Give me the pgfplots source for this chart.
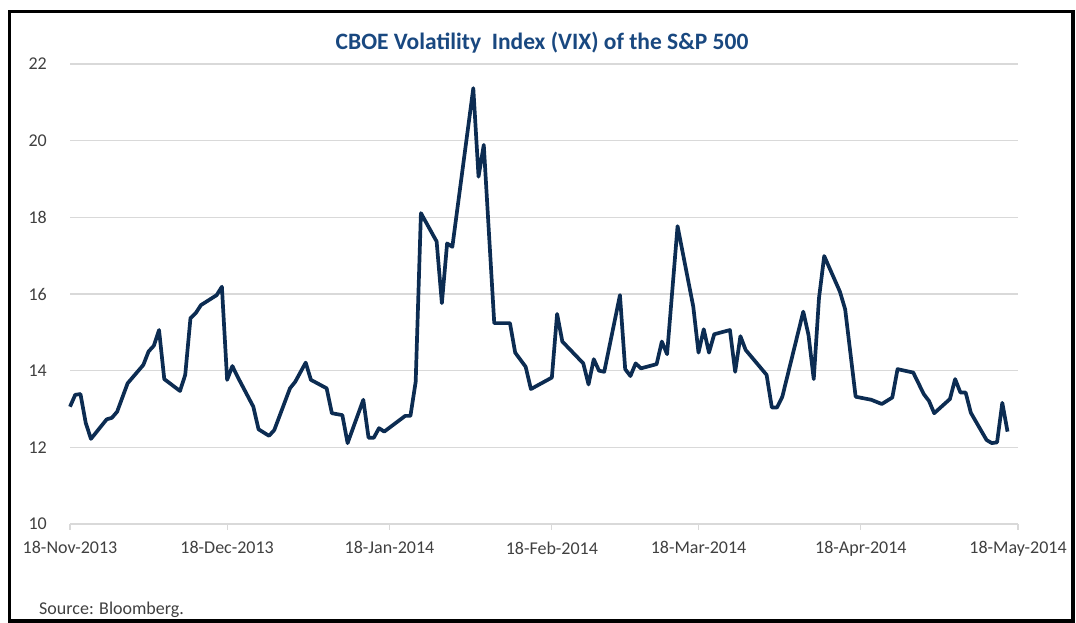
\documentclass[border=0pt]{standalone}
\usepackage{pgfplots}
\pgfplotsset{compat=1.18}
\usepackage{fontspec}
\setmainfont{Carlito}
\definecolor{linecol}{RGB}{12,44,82}
\definecolor{titlecol}{RGB}{25,72,128}
\definecolor{gridgray}{RGB}{217,217,217}
\definecolor{labgray}{RGB}{64,64,64}
\begin{document}
\begin{tikzpicture}[x=1pt,y=1pt]
\useasboundingbox (0,0) rectangle (1076,623);
\draw[line width=3.5pt] (9.5,2) rectangle (1073,611.5);
\node[anchor=base, text=titlecol, font=\fontsize{23.5}{27}\selectfont\bfseries] at (542,573) {CBOE Volatility\ \ Index (VIX) of the S\&P 500};
\node[anchor=base west, text=labgray, font=\fontsize{18}{21}\selectfont, inner sep=0pt] at (39,8) {Source: Bloomberg.};
\begin{axis}[
  at={(70pt,99pt)}, anchor=south west,
  scale only axis, width=948pt, height=460pt,
  xmin=0, xmax=181, ymin=10, ymax=22,
  xtick={0,30,61,92,120,151,181},
  xticklabels={18-Nov-2013,18-Dec-2013,18-Jan-2014,18-Feb-2014,18-Mar-2014,18-Apr-2014,18-May-2014},
  ytick={10,12,...,22},
  ymajorgrids, grid style={draw=gridgray, line width=1.4pt},
  axis line style={draw=none},
  xtick pos=bottom, ytick pos=left,
  tick align=outside, major tick length=6pt,
  xtick style={draw=gridgray, line width=1.2pt},
  ytick style={draw=none},
  ticklabel style={font=\fontsize{18}{21}\selectfont, text=labgray},
  xticklabel style={inner sep=0pt, anchor=north, yshift=-11.5pt},
  yticklabel style={inner sep=0pt, anchor=east, xshift=-17pt},
  /pgf/number format/assume math mode=true,
  clip=false,
]
\addplot[color=linecol, line width=3.7pt, line join=round] coordinates {
(0,13.06) (1,13.37) (2,13.39) (3,12.64) (4,12.22) (7,12.73) (8,12.77) (9,12.93)
(11,13.67) (14,14.15) (15,14.50) (16,14.65) (17,15.06) (18,13.78) (21,13.47)
(22,13.89) (23,15.37) (24,15.50) (25,15.71) (28,15.97) (29,16.19) (30,13.76)
(31,14.12) (32,13.84) (35,13.06) (36,12.47) (38,12.30) (39,12.45) (42,13.54)
(43,13.71) (45,14.21) (46,13.76) (49,13.54) (50,12.89) (52,12.84) (53,12.11)
(56,13.24) (57,12.25) (58,12.25) (59,12.50) (60,12.41) (64,12.82) (65,12.82)
(66,13.71) (67,18.11) (70,17.37) (71,15.76) (72,17.32) (73,17.23) (77,21.37)
(78,19.06) (79,19.89) (81,15.24) (84,15.24) (85,14.47) (87,14.10) (88,13.52)
(92,13.82) (93,15.48) (94,14.76) (98,14.19) (99,13.64) (100,14.30) (101,14.00)
(102,13.97) (105,15.97) (106,14.04) (107,13.86) (108,14.19) (109,14.06)
(112,14.17) (113,14.76) (114,14.43) (116,17.77) (119,15.67) (120,14.47)
(121,15.08) (122,14.47) (123,14.95) (126,15.06) (127,13.97) (128,14.90)
(129,14.54) (133,13.89) (134,13.04) (135,13.04) (136,13.32) (140,15.54)
(141,14.93) (142,13.78) (143,15.89) (144,16.99) (147,16.06) (148,15.60)
(150,13.32) (153,13.24) (155,13.13) (157,13.30) (158,14.04) (161,13.95)
(163,13.39) (164,13.21) (165,12.89) (168,13.26) (169,13.78) (170,13.43)
(171,13.43) (172,12.90) (175,12.19) (176,12.11) (177,12.13) (178,13.16)
(179,12.41)
};
\end{axis}
\end{tikzpicture}
\end{document}
